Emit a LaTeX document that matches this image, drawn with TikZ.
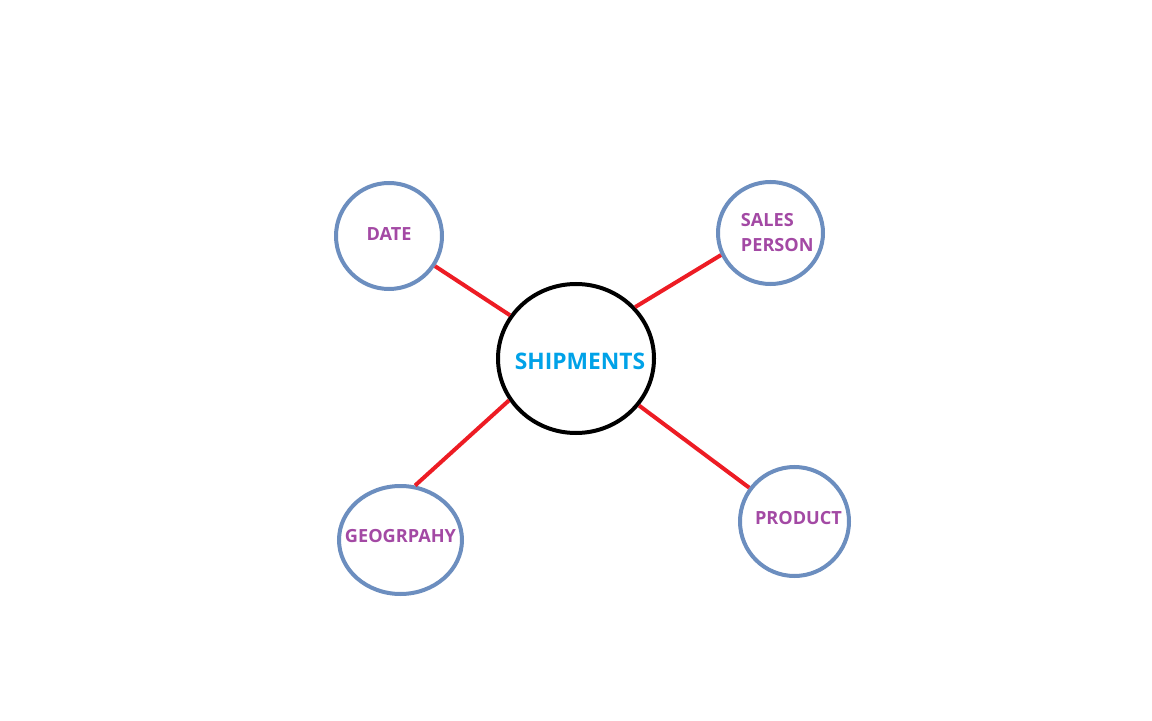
\documentclass[tikz,border=0pt]{standalone}
\usepackage{fontspec}
\setmainfont{Open Sans}
\usetikzlibrary{shapes.geometric}
\definecolor{ringblue}{RGB}{108,142,191}
\definecolor{labelpurple}{RGB}{163,73,164}
\definecolor{hubblue}{RGB}{0,162,232}
\definecolor{linkred}{RGB}{237,28,36}

\begin{document}
\begin{tikzpicture}[
        dim/.style={ellipse, draw=ringblue, line width=0.1cm, fill=white, inner sep=0pt},
        dimtext/.style={text=labelpurple, inner sep=0pt, font=\fontsize{12.9}{17.8}\selectfont\bfseries},
        hub/.style={ellipse, draw=black, line width=0.1cm, fill=white, inner sep=0pt},
        hubtext/.style={text=hubblue, inner sep=0pt, font=\fontsize{16.2}{19}\selectfont\bfseries},
        link/.style={draw=linkred, line width=0.1cm}
    ]
        \useasboundingbox (0,0) rectangle (28.8,18);

        % Draw nodes
        \node[hub, minimum width=3.9cm, minimum height=3.725cm,
            label={[hubtext, xshift=0.1cm, yshift=-0.08cm]center:SHIPMENTS}] (ship) at (14.4,9.0375) {};
        \node[dim, minimum width=2.65cm, minimum height=2.65cm,
            label={[dimtext, yshift=0.04cm]center:DATE}] (date) at (9.725,12.1) {};
        \node[dim, minimum width=2.625cm, minimum height=2.55cm,
            label={[dimtext, align=left, xshift=0.17cm]center:SALES\\PERSON}] (sales) at (19.2625,12.175) {};
        \node[dim, minimum width=3.075cm, minimum height=2.7cm,
            label={[dimtext, yshift=0.1cm]center:GEOGRPAHY}] (geo) at (10.0125,4.5) {};
        \node[dim, minimum width=2.725cm, minimum height=2.725cm,
            label={[dimtext, xshift=0.1cm, yshift=0.08cm]center:PRODUCT}] (product) at (19.8625,4.9625) {};

        % Draw connections
        \draw[link] (date) -- (ship);
        \draw[link] (sales.204) -- (ship.41);
        \draw[link] (geo.75) -- (ship.212);
        \draw[link] (product) -- (ship);
    \end{tikzpicture}
\end{document}
